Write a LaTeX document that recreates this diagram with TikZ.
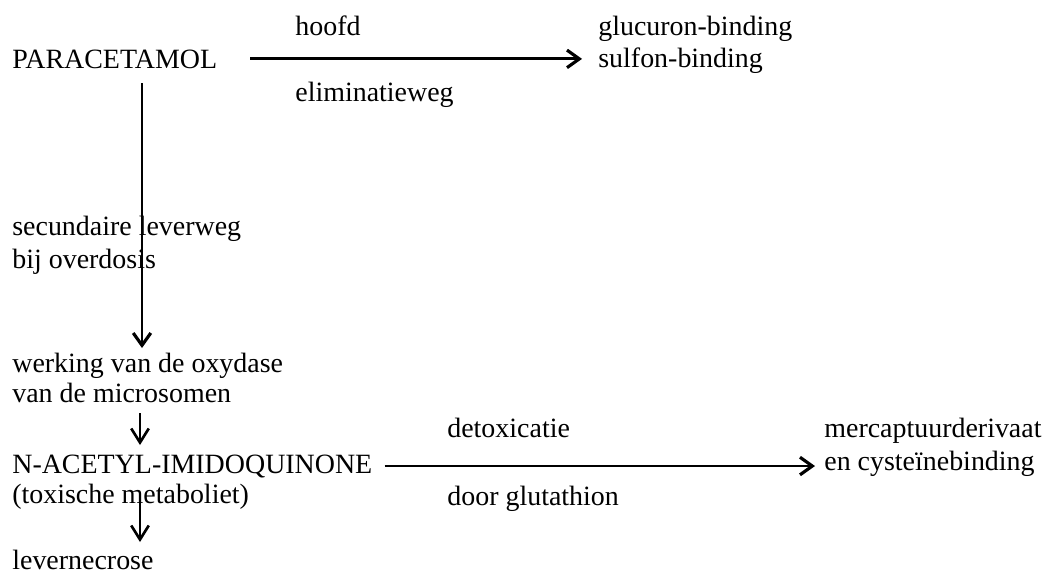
\documentclass[tikz,border=0pt]{standalone}
\usepackage{fontspec}
\setmainfont{Liberation Serif}
\usepackage{tikz}
\usetikzlibrary{arrows.meta,calc}

\begin{document}
\begin{tikzpicture}[x=0.02cm,y=-0.02cm,
		txt/.style={anchor=base west,inner sep=0pt,font=\fontsize{15.9pt}{18pt}\selectfont},
		pijl/.style={line width=1.6pt,-{Straight Barb[length=7pt,width=10pt,line width=1.8pt]}},
		kort/.style={line width=1.2pt,-{Straight Barb[length=8pt,width=10pt,line width=1.5pt]}}]
		\useasboundingbox (0,0) rectangle (1047,575);
		\node[txt] (para) at (12,68) {PARACETAMOL};
		\node[txt] (hoofd) at (295,35) {hoofd};
		\node[txt] (elim) at (295,101) {eliminatieweg};
		\node[txt] (gluc) at (598,35) {glucuron-binding};
		\node[txt] (sulf) at (598,67) {sulfon-binding};
		\node[txt] (secun) at (12,235) {secundaire leverweg};
		\node[txt] (overd) at (12,268) {bij overdosis};
		\node[txt] (werk) at (12,372) {werking van de oxydase};
		\node[txt] (micro) at (12,402) {van de microsomen};
		\node[txt] (nacet) at (12,473) {N-ACETYL-IMIDOQUINONE};
		\node[txt] (toxi) at (12,503) {(toxische metaboliet)};
		\node[txt] (detox) at (447,437) {detoxicatie};
		\node[txt] (gluta) at (447,505) {door glutathion};
		\node[txt] (merc) at (824,437) {mercaptuurderivaat};
		\node[txt] (cyst) at (824,470) {en cysteïnebinding};
		\node[txt] (necro) at (12,569) {levernecrose};
		\draw[pijl] ($(para.east)+(33,0)$) -- ($(para.east -| sulf.west)+(-16,0)$);
		\draw[pijl] ($(para.base west)+(130,15)$) -- ($(werk.base west)+(130,-24)$);
		\draw[kort] ($(micro.base west)+(128,11)$) -- ($(nacet.base west)+(128,-28)$);
		\draw[kort] ($(toxi.base west)+(128,-3)$) -- ($(necro.base west)+(128,-27)$);
		\draw[pijl] ($(nacet.east)+(12,0)$) -- ($(nacet.east -| cyst.west)+(-9,0)$);
	\end{tikzpicture}
\end{document}
